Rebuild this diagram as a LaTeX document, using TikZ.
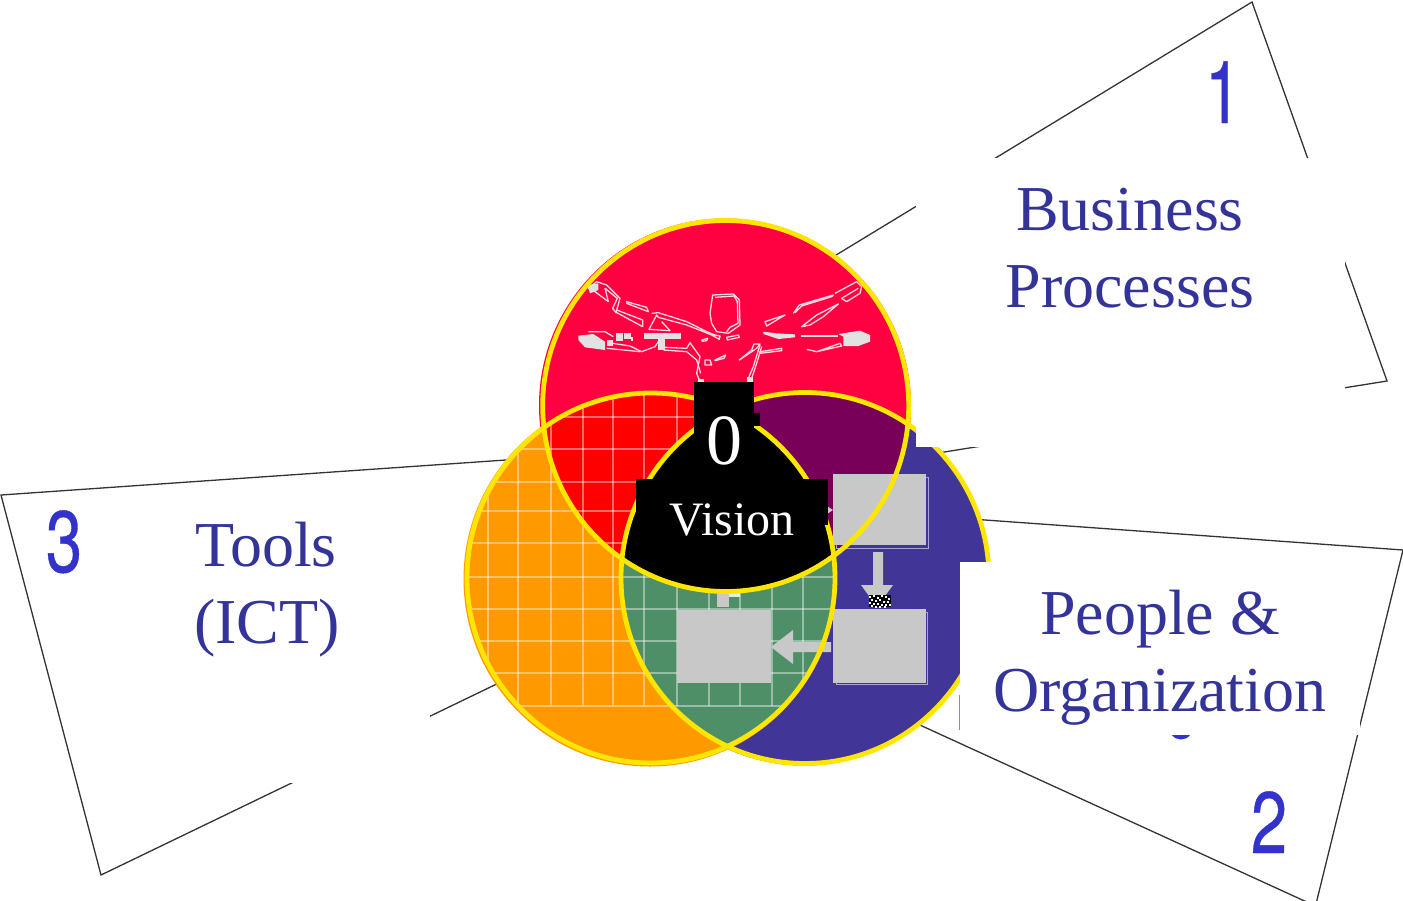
\documentclass[tikz,border=0pt]{standalone}
\usepackage{fontspec}
\setmainfont{Liberation Serif}
\newfontfamily\digitfont[FakeBold=0.5]{TeX Gyre Heros}
\definecolor{cRed}{HTML}{FF0040}
\definecolor{cOrange}{HTML}{FF9900}
\definecolor{cBlue}{HTML}{413597}
\definecolor{cRedOrange}{HTML}{FF0000}
\definecolor{cPurple}{HTML}{780058}
\definecolor{cGreen}{HTML}{4F8F68}
\definecolor{cYellow}{HTML}{FFE600}
\definecolor{cGray}{HTML}{C8C8C8}
\definecolor{cManGray}{HTML}{E2E2E2}
\definecolor{cText}{HTML}{333399}
\definecolor{cDigit}{HTML}{3333CC}
\tikzset{
  panelline/.style={draw=black!80,line width=1.3pt},
  ring/.style={draw=cYellow,line width=4.8pt},
  graybox/.style={fill=cGray,draw=none},
  grayrim/.style={draw=white!55!cBlue,line width=.8pt},
  gridline/.style={draw=white,opacity=.42,line width=1.2pt},
  mansketch/.style={draw=white!85!cRed,line width=1.3pt,line join=round},
  manfill/.style={fill=cManGray,draw=none},
  blacktab/.style={fill=black,draw=none},
  whitemask/.style={fill=white,draw=none},
  lab/.style={text=cText,font=\fontsize{64}{77}\selectfont,align=center,inner sep=0pt,anchor=base},
  numlab/.style={text=cDigit,font=\digitfont\fontsize{87}{87}\selectfont,inner sep=0pt,anchor=base},
  vislab/.style={text=white,inner sep=0pt,anchor=base}
}
\begin{document}
\begin{tikzpicture}[x=1pt,y=-1pt]
\useasboundingbox (0,0) rectangle (1403,900);
\clip (0,0) rectangle (1403,900);
% panels
\draw[panelline] (1252,2) -- (1387,381) -- (726,487) -- (726,322) -- cycle;
\draw[panelline] (804,507) -- (1403,550) -- (1315.5,906) -- (804,672) -- cycle;
\draw[panelline] (1,495) -- (650,450) -- (650,610) -- (101,875) -- cycle;
% fills
\fill[cRed] (725,405.5) ellipse [x radius=186,y radius=187];
\fill[cBlue] (804,578.5) ellipse [x radius=186,y radius=187];
\fill[cOrange] (650,579) ellipse [x radius=186.5,y radius=187.5];
\begin{scope}
 \clip (725.7,406) ellipse [x radius=183,y radius=185.5];
 \fill[cRedOrange] (650,577.5) ellipse [x radius=186,y radius=187];
\end{scope}
\begin{scope}
 \clip (725.7,406) ellipse [x radius=183,y radius=185.5];
 \fill[cPurple] (805,577.5) ellipse [x radius=185,y radius=187];
\end{scope}
\begin{scope}
 \clip (651,578) ellipse [x radius=184,y radius=185];
 \fill[cGreen] (805,578) ellipse [x radius=184,y radius=186];
\end{scope}
% grid
\begin{scope}
 \clip (651,578) ellipse [x radius=184,y radius=185];
 \foreach \gx in {488,518,551,583,613,644,677,709,740,772,803}
   \draw[gridline] (\gx,394) -- (\gx,706);
 \foreach \gy in {417,449,482,511,543,577,609,641,673,706}
   \draw[gridline] (460,\gy) -- (835,\gy);
\end{scope}
% gray flow chart
\draw[grayrim] (836,477) rectangle (928,548);
\fill[graybox] (833,474) rectangle (925.5,544.5);
\draw[grayrim] (836,612) rectangle (927.5,684.5);
\fill[graybox] (833,609) rectangle (925.5,683);
\fill[graybox] (677,610) rectangle (771,683);
\fill[graybox] (873,552) -- (883,552) -- (883,585) -- (893,585) -- (877,607) -- (861,585) -- (873,585) -- cycle;
\fill[graybox] (831,642) -- (793,642) -- (793,630) -- (771,647) -- (793,664) -- (793,652) -- (831,652) -- cycle;
\fill[cGray] (827,506) -- (833,510) -- (827,514) -- cycle;
\fill[graybox] (717,592) rectangle (729,607);
\fill[white!85!cGreen] (729,592) rectangle (740,597);
% checker patch
\fill[black] (869,595) rectangle (891,607);
\foreach \cx/\cy in {869/596,873/595,877/597,881/595,885/596,888/598,871/599,875/600,879/599,883/601,887/601,869/602,873/603,877/603,881/604,885/604,889/604,871/605,875/606,879/606,884/606}
  \fill[white] (\cx,\cy) rectangle +(2,1.6);
% centre lens
\begin{scope}
 \clip (725.7,406) ellipse [x radius=183,y radius=185.5];
 \clip (651,578) ellipse [x radius=184,y radius=185];
 \fill[black] (805,578) ellipse [x radius=184,y radius=186];
\end{scope}
% figure
\begin{scope}[shift={(530,210)},scale=1/3]
 \draw[mansketch] (548,255) -- (610,252) -- (628,270) -- (630,345) -- (595,370) -- (560,365) -- (545,340) -- (540,310) -- cycle;
 \draw[mansketch] (555,262) -- (612,258) -- (622,275) -- (624,340) -- (600,352) -- (590,365);
 \draw[mansketch] (175,235) -- (200,215) -- (230,225) -- (270,265) -- (258,308) -- (248,295) -- (262,265) -- (225,235) -- (235,275) -- (195,245) -- cycle;
 \draw[mansketch] (290,275) -- (350,292) -- (355,305) -- (290,280) -- cycle;
 \draw[mansketch] (255,305) -- (338,350) -- (338,330) -- (260,300);
 \draw[mansketch] (365,310) -- (385,308) -- (470,335) -- (530,365) -- (555,375) -- (570,378) -- (568,388) -- (545,375) -- (470,345) -- (385,322) -- (380,315) -- (357,358) -- (420,362) -- (395,335);
 \fill[manfill] (342,370) rectangle (453,387);
 \fill[manfill] (385,385) rectangle (405,420);
 \fill[manfill] (145,377) -- (190,372) -- (225,395) -- (225,420) -- (165,412) -- (145,390) -- cycle;
 \fill[manfill] (172,225) -- (205,220) -- (205,240) -- (180,250) -- cycle;
 \draw[mansketch] (175,365) -- (225,365) -- (250,380);
 \fill[manfill] (258,370) rectangle (278,392);
 \fill[manfill] (282,370) rectangle (302,388);
 \fill[manfill] (302,380) rectangle (310,392);
 \fill[manfill] (232,390) rectangle (248,408);
 \draw[mansketch] (248,400) -- (300,408) -- (335,425) -- (375,410) -- (385,395);
 \draw[mansketch] (230,415) -- (330,425);
 \draw[mansketch] (405,412) -- (470,415) -- (480,398) -- (510,440) -- (505,465) -- (500,490) -- (510,515);
 \draw[mansketch] (400,420) -- (470,425) -- (500,450) -- (512,490);
 \draw[mansketch] (525,450) -- (540,450) -- (545,465) -- (525,465) -- cycle;
 \draw[mansketch] (555,450) -- (587,435) -- (582,445) -- (555,452) -- cycle;
 \draw[mansketch] (515,390) -- (533,385) -- (530,392) -- (517,394) -- cycle;
 \draw[mansketch] (590,382) -- (625,375) -- (628,382) -- (592,390) -- cycle;
 \draw[mansketch] (705,335) -- (765,315) -- (710,348) -- cycle;
 \draw[mansketch] (790,310) -- (808,285) -- (910,255) -- (905,260) -- (815,288) -- (795,308);
 \draw[mansketch] (915,250) -- (980,215) -- (995,230) -- (990,250) -- (950,275) -- (935,265) -- (985,235);
 \draw[mansketch] (815,350) -- (860,315) -- (925,282) -- (880,320) -- (840,345) -- cycle;
 \fill[manfill] (700,365) -- (740,370) -- (795,373) -- (795,382) -- (745,387) -- (700,372) -- cycle;
 \fill[manfill] (812,375) rectangle (925,382);
 \fill[manfill] (925,372) -- (990,362) -- (1020,375) -- (1020,395) -- (985,408) -- (940,408) -- (940,380) -- cycle;
 \draw[mansketch] (830,418) -- (860,425) -- (930,400) -- (935,408) -- (860,425);
 \draw[mansketch] (628,450) -- (680,415) -- (690,402) -- (672,402) -- (665,420) -- cycle;
 \draw[mansketch] (690,425) -- (755,415) -- (755,422) -- (690,430) -- cycle;
 \draw[mansketch] (690,405) -- (670,470) -- (655,505) -- (665,505) -- (680,460) -- (695,410);
 \fill[manfill] (650,500) rectangle (668,516);
 \fill[manfill] (505,507) rectangle (522,516);
\end{scope}
% yellow rings
\draw[ring] (725.7,406) ellipse [x radius=183,y radius=185.5];
\draw[ring] (651,578) ellipse [x radius=184,y radius=185];
\draw[ring] (805,578) ellipse [x radius=184,y radius=185.5];
% black tabs
\fill[blacktab] (694,382) rectangle (754,450);
\fill[blacktab] (754,413) rectangle (760,426);
\fill[blacktab] (636,479) rectangle (828,525);
% masks over the panels
\fill[whitemask] (916,158) rectangle (1345,447);
\fill[whitemask] (960,562) rectangle (1360,735);
\fill[whitemask] (150,500) rectangle (430,783);
% remnants under the mask
\draw[cBlue!60,line width=.8pt] (959.5,695) -- (959.5,730);
\fill[cDigit] (1172,735) .. controls (1176,741) and (1186,741) .. (1190,735) -- cycle;
% texts
\node[lab] (bizA) at (1130,230) {Business};
\node[lab] (bizB) at (1130,307) {Processes};
\node[lab] (peoA) at (1160,634) {People \&};
\node[lab] (peoB) at (1160,711) {Organization};
\node[lab] (toolA) at (266,566) {Tools};
\node[lab] (toolB) at (267,643) {(ICT)};
\node[vislab,font=\fontsize{72}{72}\selectfont] (zero) at (724,464) {0};
\node[vislab,font=\fontsize{48}{48}\selectfont] (vision) at (732,535) {Vision};
\node[numlab] (one) at (1223,123) {\scalebox{.75}[1]{1}};
\node[numlab] (two) at (1269,853) {\scalebox{.75}[1]{2}};
\node[numlab] (three) at (64,572) {\scalebox{.75}[1]{3}};
\end{tikzpicture}
\end{document}
